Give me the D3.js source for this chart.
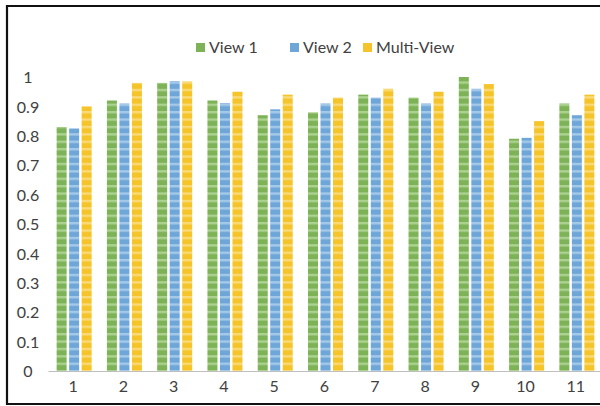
<!DOCTYPE html>
<html><head><meta charset="utf-8">
<script src="https://cdn.jsdelivr.net/npm/d3@7/dist/d3.min.js"></script>
<style>body{margin:0;background:#fff}svg{display:block}text{font-family:Lato,"Open Sans",sans-serif}</style>
</head><body><svg id="c" width="600" height="406"></svg>
<script>
const categories = ["1","2","3","4","5","6","7","8","9","10","11"];
const seriesNames = ["View 1","View 2","Multi-View"];
const view1 = [0.83,0.92,0.98,0.92,0.87,0.88,0.94,0.93,1.00,0.79,0.91];
const view2 = [0.825,0.91,0.986,0.911,0.89,0.91,0.93,0.91,0.96,0.793,0.87];
const multiView = [0.90,0.98,0.985,0.95,0.94,0.93,0.96,0.95,0.976,0.85,0.94];
const yTicks = [0,0.1,0.2,0.3,0.4,0.5,0.6,0.7,0.8,0.9,1];
const colors = ["#7DB356","#6FA6D8","#F5C42A"];
const lightColors = ["#B8DA9E","#B3D2EE","#FBE08A"];
const series = [view1, view2, multiView];

const svg = d3.select("#c");
const defs = svg.append("defs");
colors.forEach((c,i)=>{
  const p = defs.append("pattern").attr("id","pat"+i).attr("patternUnits","userSpaceOnUse")
    .attr("width",12).attr("height",7.4);
  p.append("rect").attr("width",12).attr("height",7.4).attr("fill",c);
  p.append("rect").attr("y",0).attr("width",12).attr("height",2.4).attr("fill",lightColors[i]).attr("opacity",0.8);
});
// frame
svg.append("line").attr("x1",7).attr("x2",600).attr("y1",6).attr("y2",6).attr("stroke","#111").attr("stroke-width",2.2);
svg.append("line").attr("x1",7).attr("x2",7).attr("y1",5).attr("y2",405).attr("stroke","#111").attr("stroke-width",2.2);
svg.append("line").attr("x1",6).attr("x2",600).attr("y1",404).attr("y2",404).attr("stroke","#111").attr("stroke-width",2.2);

const x = d3.scaleBand().domain(categories).range([48,601]);
const x1 = d3.scaleBand().domain(d3.range(3)).range([0,x.bandwidth()]).paddingInner(0.2).paddingOuter(0.61);
const y = d3.scaleLinear().domain([0,1]).range([371,77]);

const g = svg.append("g");
categories.forEach((cat,ci)=>{
  series.forEach((s,si)=>{
    g.append("rect").attr("x",x(cat)+x1(si)+1).attr("y",y(s[ci]))
      .attr("width",x1.bandwidth()).attr("height",y(0)-y(s[ci]))
      .attr("fill","url(#pat"+si+")");
  });
});

// y axis labels
const ya = svg.append("g").attr("transform","translate(28,0)").call(d3.axisLeft(y).tickValues(yTicks).tickSize(0).tickFormat(d=>d3.format("")(+d.toFixed(1))));
ya.select(".domain").remove();
ya.selectAll("text").attr("fill","#404040").style("font-size","16px").attr("text-anchor","middle").attr("x",0).attr("dy","0.35em");

// x axis
const xa = svg.append("g").attr("transform","translate(0,371)").call(d3.axisBottom(x).tickSize(0).tickPadding(9));
xa.select(".domain").attr("stroke","#BFBFBF").attr("stroke-width",1.2);
xa.selectAll("text").attr("fill","#404040").style("font-size","16px").attr("dy","0.75em");

// legend
const legX = [196,290,363];
seriesNames.forEach((n,i)=>{
  svg.append("rect").attr("x",legX[i]).attr("y",43).attr("width",9).attr("height",9).attr("fill",colors[i]);
  svg.append("text").attr("x",legX[i]+13).attr("y",47).attr("dy","0.35em").attr("fill","#404040").style("font-size","16px").text(n);
});
</script></body></html>
